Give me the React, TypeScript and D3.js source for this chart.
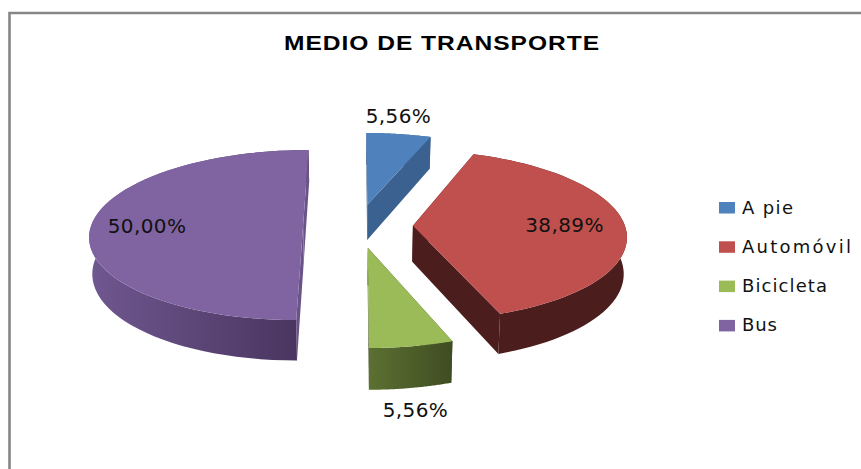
import React from "react";
import * as d3 from "d3";

const categories = ["A pie", "Automóvil", "Bicicleta", "Bus"];
const values = [5.56, 38.89, 5.56, 50.0];
const labels = ["5,56%", "38,89%", "5,56%", "50,00%"];
const topColors = ["#4f81bd", "#c0504d", "#9bbb59", "#8064a2"];
const sideStart = ["#3a618f", "#4b1e1d", "#5c7032", "#6f578f"];
const sideEnd = ["#3a618f", "#4b1e1d", "#3f4d22", "#4a3560"];
const cutColors = ["#3a618f", "#4b1e1d", "#3f4d22", "#6a5388"];
const labelPos: [number, number][] = [[398.5, 123], [564.5, 231.5], [415.5, 417], [147, 233]];
const legendWidths = [51, 109, 85, 35];

const W = 861, H = 469;
const cx = 358, cy = 225.7, A = 212, B = 84, P = 0.11, EXPLODE = 0.259, DEPTH = 36, SX = 0.988;

type Pt = [number, number];
const project = (u: number, v: number): Pt => {
  const w = 1 + P * v;
  return [cx + (A * u) / w, cy - (B * v) / w];
};
const lower = (u: number, v: number): Pt => {
  const w = 1 + P * v;
  const [x, y] = project(u, v);
  return [cx + (x - cx) * SX, y + DEPTH / w];
};
const line = d3.line<Pt>();

const pie = d3.pie<number>().sort(null)(values);

export default function App() {
  const slices = pie.map((s, i) => {
    const mid = (s.startAngle + s.endAngle) / 2;
    const ou = EXPLODE * Math.sin(mid);
    const ov = EXPLODE * Math.cos(mid);
    const angles = d3.range(0, 61).map((k) => s.startAngle + ((s.endAngle - s.startAngle) * k) / 60);
    const rim = angles.map((a) => [ou + Math.sin(a), ov + Math.cos(a)] as Pt);
    const rimTop = rim.map(([u, v]) => project(u, v));
    const rimLow = rim.map(([u, v]) => lower(u, v));
    const apexTop = project(ou, ov);
    const apexLow = lower(ou, ov);
    const top = line([apexTop, ...rimTop])! + "Z";
    const side = line([...rimTop, ...rimLow.slice().reverse()])! + "Z";
    const cutA = line([apexTop, rimTop[0], rimLow[0], apexLow])! + "Z";
    const cutB = line([apexTop, rimTop[60], rimLow[60], apexLow])! + "Z";
    const xs = rimLow.filter((_, k) => rim[k][1] - ov < 0.05).map((p) => p[0]);
    return { i, top, side, cutA, cutB, x0: d3.min(xs) ?? 0, x1: d3.max(xs) ?? 1 };
  });
  const drawOrder = [0, 3, 1, 2];
  return (
    <svg width={W} height={H} style={{ position: "fixed", left: 0, top: 0, background: "#fff" }}>
      <defs>
        {slices.map((s) => (
          <linearGradient key={s.i} id={`side${s.i}`} gradientUnits="userSpaceOnUse" x1={s.x0} x2={s.x1} y1={0} y2={0}>
            <stop offset="0" stopColor={sideStart[s.i]} />
            <stop offset="1" stopColor={sideEnd[s.i]} />
          </linearGradient>
        ))}
      </defs>
      <path d={`M9.5 ${H + 5}V13H${W + 5}`} fill="none" stroke="#868686" strokeWidth={2.6} />
      <text x={442} y={49.5} textAnchor="middle" fontFamily="Liberation Sans" fontWeight="bold" fontSize={20} letterSpacing={0.8} textLength={316} lengthAdjust="spacingAndGlyphs">
        MEDIO DE TRANSPORTE
      </text>
      {drawOrder.map((i) => {
        const s = slices[i];
        return (
          <g key={i}>
            <path d={s.cutA} fill={cutColors[i]} />
            <path d={s.side} fill={`url(#side${i})`} />
            <path d={s.cutB} fill={cutColors[i]} />
            <path d={s.top} fill={topColors[i]} />
          </g>
        );
      })}
      {labels.map((t, i) => (
        <text key={t + i} x={labelPos[i][0]} y={labelPos[i][1]} textAnchor="middle" fontFamily="DejaVu Sans" fontSize={20} letterSpacing={0.4} fill="#111">
          {t}
        </text>
      ))}
      {categories.map((c, i) => {
        const y = 202 + i * 39.3;
        return (
          <g key={c}>
            <rect x={719} y={y} width={16} height={11.5} fill={topColors[i]} />
            <text x={742} y={y + 11.5} fontFamily="DejaVu Sans" fontSize={18} textLength={legendWidths[i]} lengthAdjust="spacing" fill="#111">
              {c}
            </text>
          </g>
        );
      })}
    </svg>
  );
}
